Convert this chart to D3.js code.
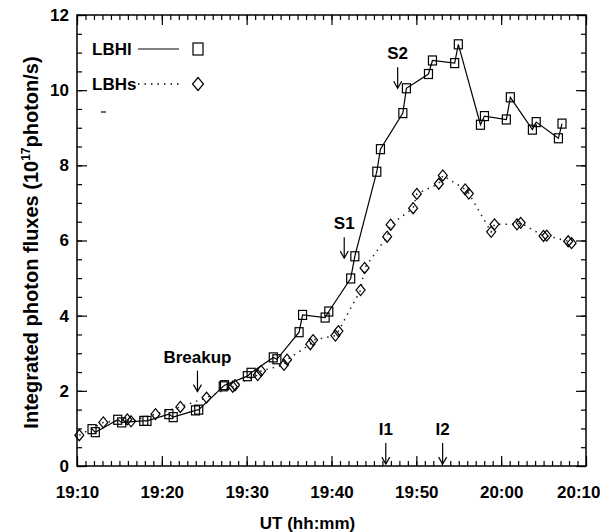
<!DOCTYPE html>
<html>
<head>
<meta charset="utf-8">
<script src="https://cdn.jsdelivr.net/npm/d3@7"></script>
<style>
  body { margin: 0; background: #fff; }
  text { font-family: "Liberation Sans", Arial, sans-serif; font-weight: bold; fill: #000; }
  .axis path { display: none; }
  .axis line { stroke: #000; stroke-width: 1.2px; }
</style>
</head>
<body>
<svg id="chart" width="600" height="532"></svg>
<script>
// time in minutes after 19:00 UT, flux in 10^17 photon/s
let lbhlTime = [11.77, 12.16, 14.80, 15.27, 17.87, 18.25, 20.83, 21.34, 23.97, 24.35,
    27.24, 27.39, 30.08, 30.52, 33.14, 33.56, 36.18, 36.59, 39.25, 39.68,
    42.26, 42.75, 45.34, 45.77, 48.41, 48.83, 51.43, 51.90, 54.52, 54.95,
    57.56, 58.03, 60.61, 61.08, 63.68, 64.13, 66.75, 67.17]
let lbhlFlux = [0.98, 0.90, 1.23, 1.16, 1.20, 1.20, 1.38, 1.30, 1.48, 1.50,
    2.12, 2.15, 2.39, 2.48, 2.89, 2.84, 3.56, 4.02, 3.95, 4.11,
    4.99, 5.58, 7.83, 8.43, 9.39, 10.05, 10.43, 10.79, 10.72, 11.22,
    9.08, 9.31, 9.22, 9.81, 8.95, 9.15, 8.72, 9.11]

let lbhsTime = [10.27, 13.10, 15.93, 16.37, 19.25, 22.18, 25.27, 28.36, 28.63,
    31.30, 31.70, 34.40, 34.76, 37.50, 37.83, 40.46, 40.81, 43.43, 43.90,
    46.56, 46.97, 49.62, 50.06, 52.65, 53.12, 55.75, 56.19, 58.82, 59.21,
    61.86, 62.30, 64.99, 65.37, 67.90, 68.30]
let lbhsFlux = [0.82, 1.16, 1.24, 1.19, 1.38, 1.57, 1.82, 2.11, 2.15,
    2.42, 2.53, 2.69, 2.83, 3.24, 3.35, 3.47, 3.59, 4.68, 5.27,
    6.10, 6.42, 6.86, 7.24, 7.51, 7.73, 7.36, 7.25, 6.23, 6.43,
    6.43, 6.47, 6.12, 6.13, 5.98, 5.93]

let xMajorTicks = [10, 20, 30, 40, 50, 60, 70]
let yMajorTicks = [0, 2, 4, 6, 8, 10, 12]

// event markers: label, time, flux at arrow tip
let eventLabels = ["Breakup", "S1", "S2", "I1", "I2"]
let eventTimes = [24.2, 41.5, 47.8, 46.4, 53.1]
let eventFlux = [1.98, 5.53, 10.05, 0.05, 0.05]

let seriesNames = ["LBHl", "LBHs"]

const svg = d3.select("#chart")
const pLeft = 77, pRight = 586, pTop = 15, pBottom = 466

let x = d3.scaleLinear().domain([10, 70]).range([pLeft, pRight])
let y = d3.scaleLinear().domain([0, 12]).range([pBottom, pTop])

function fmtTime(m) {
    let h = 19 + Math.floor(m / 60)
    let mm = m % 60
    return h + ":" + (mm < 10 ? "0" + mm : mm)
}

// frame
svg.append("rect")
    .attr("x", pLeft).attr("y", pTop)
    .attr("width", pRight - pLeft).attr("height", pBottom - pTop)
    .attr("fill", "none").attr("stroke", "#000").attr("stroke-width", 1.5)

// minor ticks
let xMinor = d3.range(10, 71, 1)
let yMinor = d3.range(0, 12.01, 0.5)
svg.append("g").attr("class", "axis").attr("transform", `translate(0,${pBottom})`)
    .call(d3.axisBottom(x).tickValues(xMinor).tickSize(-5).tickFormat(""))
svg.append("g").attr("class", "axis").attr("transform", `translate(0,${pTop})`)
    .call(d3.axisTop(x).tickValues(xMinor).tickSize(-5).tickFormat(""))
svg.append("g").attr("class", "axis").attr("transform", `translate(${pLeft},0)`)
    .call(d3.axisLeft(y).tickValues(yMinor).tickSize(-5).tickFormat(""))
svg.append("g").attr("class", "axis").attr("transform", `translate(${pRight},0)`)
    .call(d3.axisRight(y).tickValues(yMinor).tickSize(-5).tickFormat(""))

// major ticks + labels
let xAxis = svg.append("g").attr("class", "axis").attr("transform", `translate(0,${pBottom})`)
    .call(d3.axisBottom(x).tickValues(xMajorTicks).tickSize(-10).tickPadding(20).tickFormat(fmtTime))
svg.append("g").attr("class", "axis").attr("transform", `translate(0,${pTop})`)
    .call(d3.axisTop(x).tickValues(xMajorTicks).tickSize(-10).tickFormat(""))
let yAxis = svg.append("g").attr("class", "axis").attr("transform", `translate(${pLeft},0)`)
    .call(d3.axisLeft(y).tickValues(yMajorTicks).tickSize(-10).tickPadding(8).tickFormat(d3.format("d")))
svg.append("g").attr("class", "axis").attr("transform", `translate(${pRight},0)`)
    .call(d3.axisRight(y).tickValues(yMajorTicks).tickSize(-10).tickFormat(""))

xAxis.selectAll("text").style("font-size", "17px").attr("fill", "#000")
yAxis.selectAll("text").style("font-size", "17px").attr("fill", "#000")
// last label sits at the right edge, keep it inside the page
xAxis.selectAll("text").filter(d => d == 70).attr("text-anchor", "end").attr("x", 14)

// axis labels
svg.append("text")
    .attr("x", (pLeft + pRight) / 2 - 24).attr("y", 529)
    .attr("text-anchor", "middle")
    .style("font-size", "17px")
    .text("UT (hh:mm)")

let yl = svg.append("text")
    .attr("transform", `translate(38,${(pTop + pBottom) / 2 + 2}) rotate(-90)`)
    .attr("text-anchor", "middle")
    .style("font-size", "20px")
yl.append("tspan").text("Integrated photon fluxes (10")
yl.append("tspan").attr("dy", -8).style("font-size", "12px").text("17")
yl.append("tspan").attr("dy", 8).text("photon/s)")

// lines
let lhl = d3.range(lbhlTime.length)
let lhs = d3.range(lbhsTime.length)
let lineL = d3.line().x(i => x(lbhlTime[i])).y(i => y(lbhlFlux[i]))
let lineS = d3.line().x(i => x(lbhsTime[i])).y(i => y(lbhsFlux[i]))

svg.append("path").attr("d", lineL(lhl))
    .attr("fill", "none").attr("stroke", "#000").attr("stroke-width", 1.2)
svg.append("path").attr("d", lineS(lhs))
    .attr("fill", "none").attr("stroke", "#222").attr("stroke-width", 1.5)
    .attr("stroke-dasharray", "1.5,5")

function diamond(w, h) {
    return `M0,${-h / 2}L${w / 2},0L0,${h / 2}L${-w / 2},0Z`
}

svg.selectAll(".sq")
    .data(lhl)
    .enter()
    .append("rect")
    .attr("class", "sq")
    .attr("x", i => x(lbhlTime[i]) - 4)
    .attr("y", i => y(lbhlFlux[i]) - 4.5)
    .attr("width", 8).attr("height", 9)
    .attr("fill", "none").attr("stroke", "#000").attr("stroke-width", 1.2)

svg.selectAll(".dm")
    .data(lhs)
    .enter()
    .append("path")
    .attr("class", "dm")
    .attr("transform", i => `translate(${x(lbhsTime[i])},${y(lbhsFlux[i])})`)
    .attr("d", diamond(9, 11))
    .attr("fill", "none").attr("stroke", "#000").attr("stroke-width", 1.2)

// event arrows
eventLabels.forEach(function (lab, i) {
    let ex = x(eventTimes[i]), ey = y(eventFlux[i])
    let g = svg.append("g")
    g.append("line").attr("x1", ex).attr("x2", ex).attr("y1", ey - 21).attr("y2", ey)
        .attr("stroke", "#000").attr("stroke-width", 1.2)
    g.append("path").attr("d", `M${ex - 4},${ey - 7}L${ex},${ey}L${ex + 4},${ey - 7}`)
        .attr("fill", "none").attr("stroke", "#000").attr("stroke-width", 1.2)
    g.append("text").attr("x", ex).attr("y", ey - 29)
        .attr("text-anchor", "middle")
        .style("font-size", "17px")
        .text(lab)
})

// legend
let legY = [49, 84]
seriesNames.forEach(function (name, i) {
    svg.append("text").attr("x", 92).attr("y", legY[i] + 6)
        .style("font-size", "17px").text(name)
    svg.append("line").attr("x1", 138).attr("x2", 179)
        .attr("y1", legY[i]).attr("y2", legY[i])
        .attr("stroke", "#000").attr("stroke-width", i == 0 ? 1.2 : 1.5)
        .attr("stroke-dasharray", i == 0 ? null : "1.5,5")
})
svg.append("rect").attr("x", 193).attr("y", legY[0] - 6).attr("width", 10).attr("height", 12)
    .attr("fill", "none").attr("stroke", "#000").attr("stroke-width", 1.2)
svg.append("path").attr("transform", `translate(198,${legY[1]})`).attr("d", diamond(11, 13))
    .attr("fill", "none").attr("stroke", "#000").attr("stroke-width", 1.2)
svg.append("line").attr("x1", 101).attr("x2", 106).attr("y1", 112).attr("y2", 112)
    .attr("stroke", "#000").attr("stroke-width", 1.2)
</script>
</body>
</html>
